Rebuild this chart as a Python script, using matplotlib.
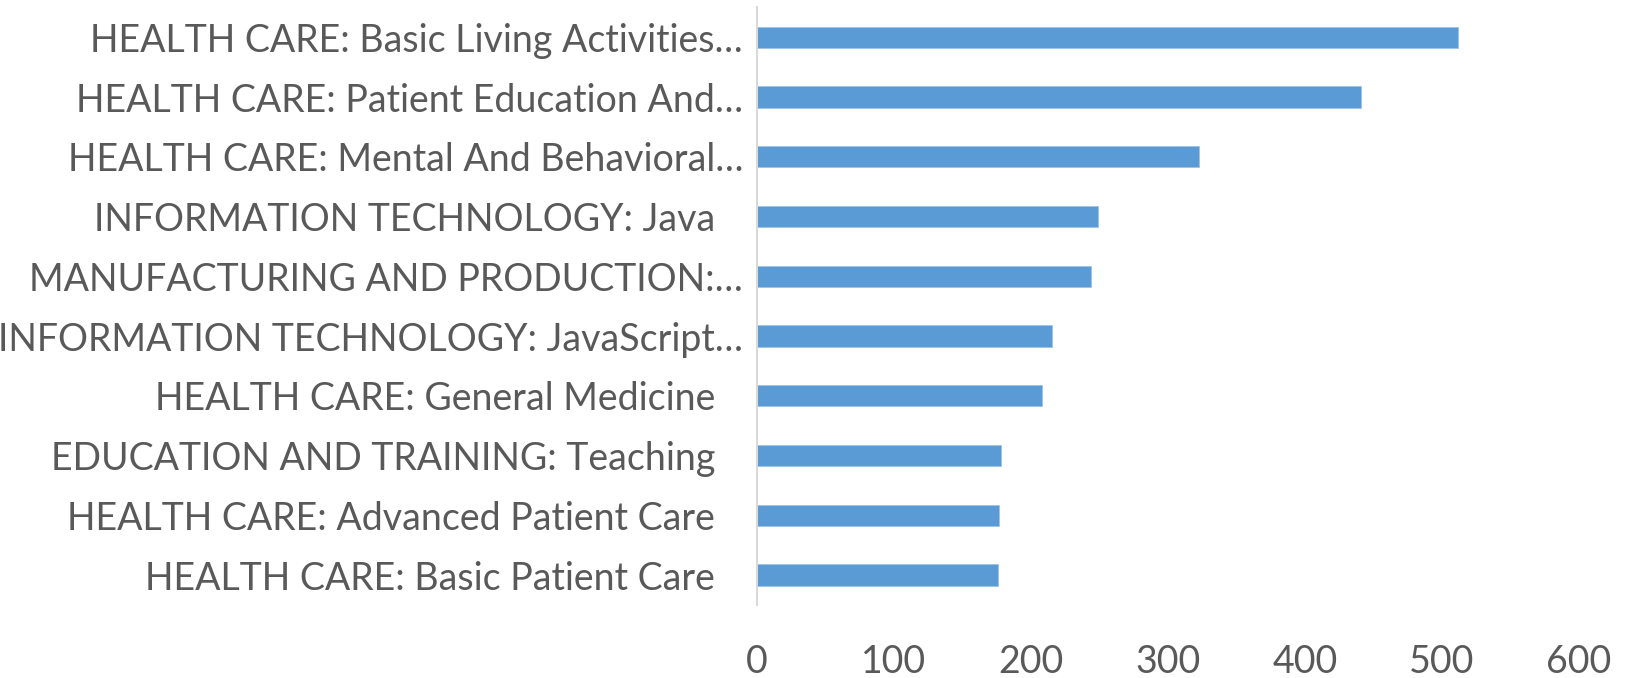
import matplotlib
matplotlib.use("Agg")
import matplotlib.pyplot as plt
from matplotlib.transforms import ScaledTranslation

# categories listed top to bottom, as in the chart
categories = [
    "HEALTH CARE: Basic Living Activities…",
    "HEALTH CARE: Patient Education And…",
    "HEALTH CARE: Mental And Behavioral…",
    "INFORMATION TECHNOLOGY: Java",
    "MANUFACTURING AND PRODUCTION:…",
    "INFORMATION TECHNOLOGY: JavaScript…",
    "HEALTH CARE: General Medicine",
    "EDUCATION AND TRAINING: Teaching",
    "HEALTH CARE: Advanced Patient Care",
    "HEALTH CARE: Basic Patient Care",
]
values = [512, 441, 323, 249, 244, 215, 208, 178, 177, 176]
xticks = [0, 100, 200, 300, 400, 500, 600]

bar_color = "#5B9BD5"
text_color = "#595959"

plt.rcParams['font.family'] = ['Lato', 'DejaVu Sans']

fig = plt.figure(figsize=(16.25, 6.78), dpi=100)
ax = fig.add_axes([0.4658, 0.1077, 0.9717 - 0.4658, 0.989 - 0.1077])

ypos = list(range(len(categories)))
ax.barh(ypos, values, height=0.355, color=bar_color, edgecolor="#9DC3E6", linewidth=0.6)
ax.set_ylim(len(categories) - 0.5, -0.5)
ax.set_xlim(0, 600)

ax.set_yticks(ypos)
ax.set_yticklabels(categories)
ax.set_xticks(xticks)
ax.set_xticklabels([str(t) for t in xticks])

ax.tick_params(axis="y", length=0, pad=10, labelsize=27, labelcolor=text_color)
ax.tick_params(axis="x", length=0, pad=28, labelsize=27, labelcolor=text_color)

# labels that were not cut short sit a bit further from the axis
for lab in ax.get_yticklabels():
    if not lab.get_text().endswith("…"):
        lab.set_transform(lab.get_transform() + ScaledTranslation(-0.28, 0, fig.dpi_scale_trans))

for side in ["top", "right", "bottom"]:
    ax.spines[side].set_visible(False)
ax.spines["left"].set_color("#D9D9D9")
ax.spines["left"].set_linewidth(1.5)

fig.savefig("out.png", dpi=100)
